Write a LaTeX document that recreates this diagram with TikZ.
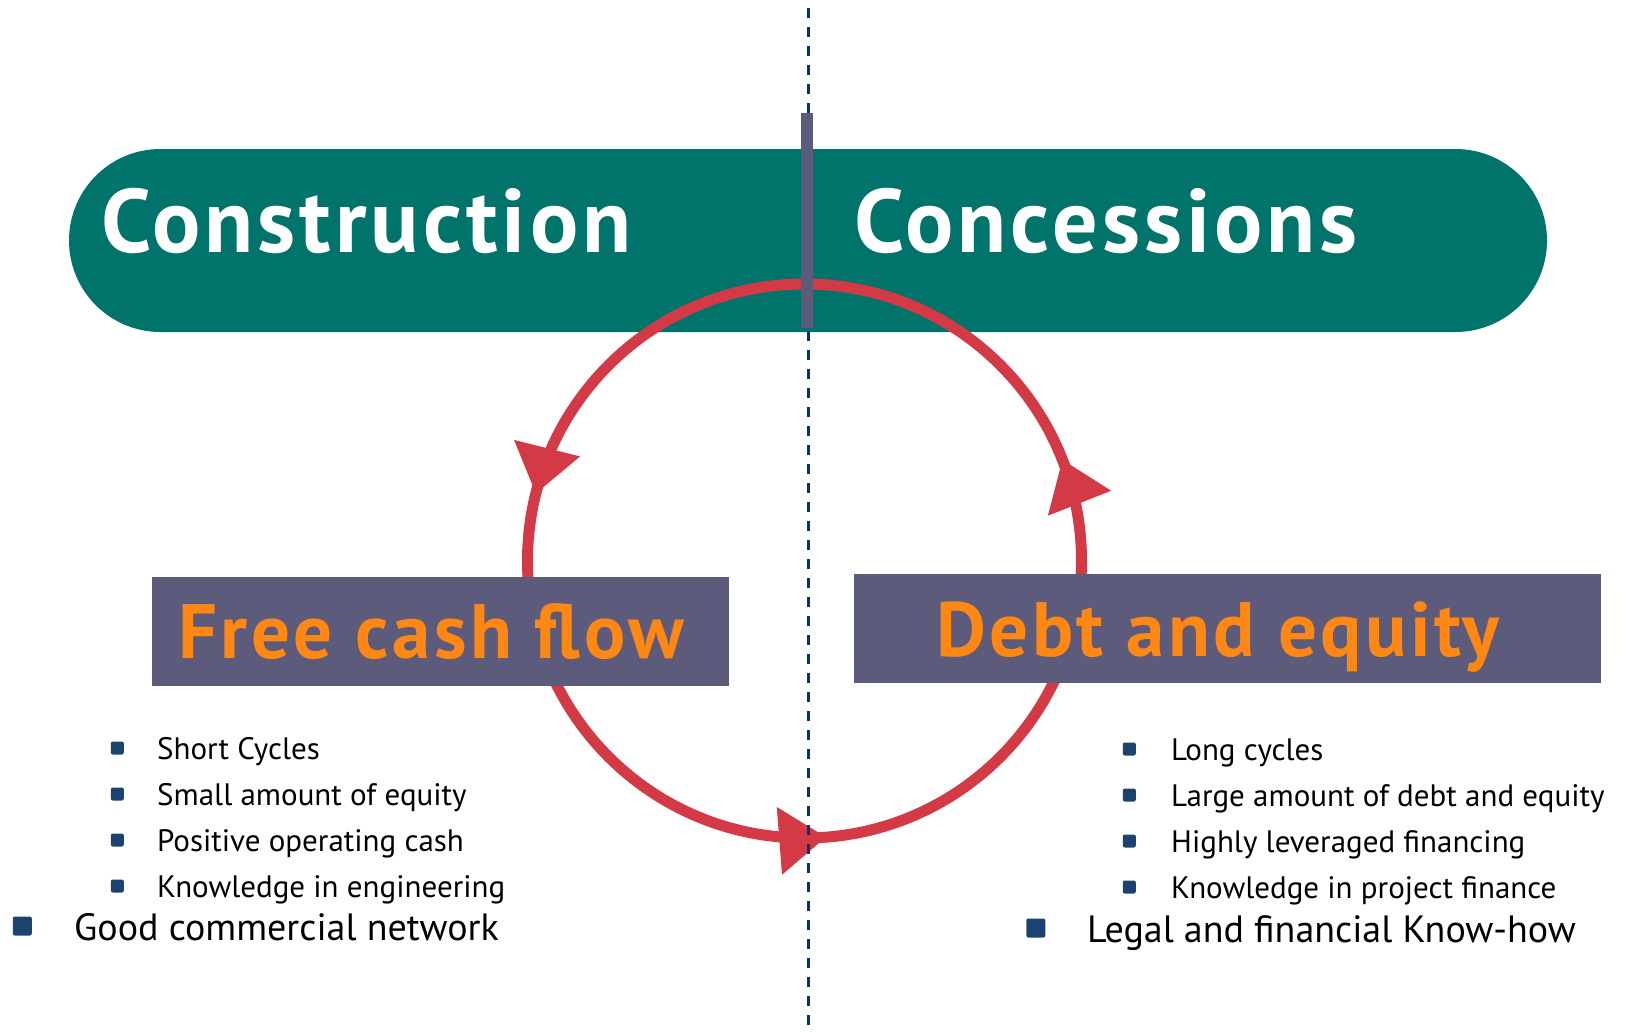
\documentclass[tikz,border=0pt]{standalone}
\usepackage{fontspec}
\setmainfont{PT Sans}
\newfontfamily\headfont[LetterSpace=4.5]{PT Sans}
\usetikzlibrary{positioning, arrows.meta, decorations.markings}
\definecolor{bandgreen}{HTML}{00736A}
\definecolor{slate}{HTML}{5C5B7B}
\definecolor{loopred}{HTML}{D43A46}
\definecolor{amber}{HTML}{FF8714}
\definecolor{dotblue}{HTML}{1B4370}
\definecolor{rulenavy}{HTML}{003380}
\tikzset{
    x=1pt, y=-1pt,
    on grid,
    node distance=46pt,
    band/.style={fill=bandgreen, minimum width=1478pt, minimum height=183pt,
        rounded corners=91.5pt, inner sep=0pt},
    title/.style={anchor=base west, inner sep=0pt, text=white,
        font=\fontsize{90}{90}\headfont\bfseries},
    panel/.style={fill=slate, inner sep=0pt, minimum height=109pt, text=amber,
        text height=55pt, text depth=0pt,
        font=\fontsize{77}{77}\headfont\bfseries},
    post/.style={fill=slate, minimum width=12pt, minimum height=215pt, inner sep=0pt},
    item/.style={anchor=west, inner sep=0pt, text height=22pt, text depth=0pt,
        font=\fontsize{31}{31}\selectfont},
    bigitem/.style={anchor=west, inner sep=0pt, text height=28pt, text depth=0pt,
        font=\fontsize{38}{38}\selectfont},
    dot/.style={fill=dotblue, minimum size=13pt, inner sep=0pt, rounded corners=2pt},
    bigdot/.style={dot, minimum size=19pt},
    loop/.style={draw=loopred, line width=11pt, postaction={decorate},
        decoration={markings,
            mark=at position 0.211 with {\arrow[loopred]{Triangle[length=47pt,width=65pt]}},
            mark=at position 0.5125 with {\arrow[loopred]{Triangle[length=47pt,width=65pt]}},
            mark=at position 0.8097 with {\arrow[loopred]{Triangle[length=47pt,width=65pt]}}}},
    split/.style={draw=rulenavy, line width=3pt, dash pattern=on 10pt off 9pt},
}

\begin{document}
\begin{tikzpicture}
    \useasboundingbox (0,0) rectangle (1652,1031);

    \node[band] (band) at (808,240.5) {};

    % the cycle
    \coordinate (hub) at (804.5,561);
    \draw[loop] (hub) ++(0,-277) arc[start angle=270, end angle=-90, radius=277];

    \node[panel, minimum width=577pt] (cash) at (440.5,631) {Free cash flow\hspace*{19pt}};
    \node[panel, minimum width=747pt] (debt) at (1227.5,628.5) {Debt and equity\hspace*{19pt}};

    \coordinate (top) at (808,8);
    \coordinate (bottom) at (808,1031);
    \draw[split] (top) -- (bottom);
    \node[post] (post) at (807,220.5) {};

    \node[title] (build) at (101,252) {Construction};
    \node[title] (conc) at (854,252) {Concessions};

    % left list
    \node[item] (s1) at (157,748) {Short Cycles};
    \node[item, below=of s1.west, anchor=west] (s2) {Small amount of equity};
    \node[item, below=of s2.west, anchor=west] (s3) {Positive operating cash};
    \node[item, below=of s3.west, anchor=west] (s4) {Knowledge in engineering};
    \node[bigitem] (s5) at (74,926) {Good commercial network};
    \node[dot, left=33pt of s1.west] {};
    \node[dot, left=33pt of s2.west] {};
    \node[dot, left=33pt of s3.west] {};
    \node[dot, left=33pt of s4.west] {};
    \node[bigdot, left=42pt of s5.west] {};

    % right list
    \node[item] (c1) at (1171,749) {Long cycles};
    \node[item, below=of c1.west, anchor=west] (c2) {Large amount of debt and equity};
    \node[item, below=of c2.west, anchor=west] (c3) {Highly leveraged financing};
    \node[item, below=of c3.west, anchor=west] (c4) {Knowledge in project finance};
    \node[bigitem] (c5) at (1087,928) {Legal and financial Know-how};
    \node[dot, left=35pt of c1.west] {};
    \node[dot, left=35pt of c2.west] {};
    \node[dot, left=35pt of c3.west] {};
    \node[dot, left=35pt of c4.west] {};
    \node[bigdot, left=41.5pt of c5.west] {};
\end{tikzpicture}
\end{document}
